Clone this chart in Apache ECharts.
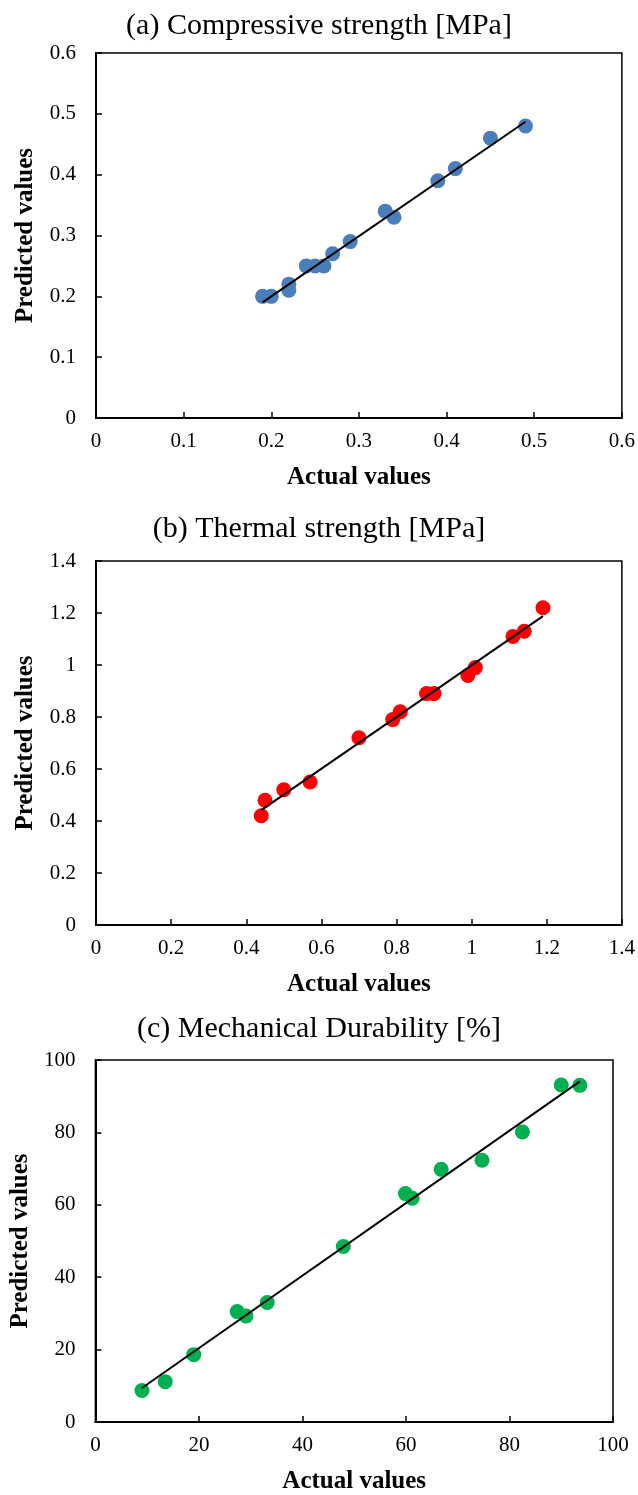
<!DOCTYPE html>
<html>
<head>
<meta charset="utf-8">
<script src="https://cdn.jsdelivr.net/npm/echarts@6/dist/echarts.min.js"></script>
<style>
  html, body { margin: 0; padding: 0; background: #fff; }
  #main { width: 638px; height: 1495px; }
</style>
</head>
<body>
<div id="main"></div>
<script>
// (a) Compressive strength [MPa]
var compActual = [0.19, 0.20, 0.22, 0.22, 0.24, 0.25, 0.26, 0.27, 0.29, 0.33, 0.34, 0.39, 0.41, 0.45, 0.49];
var compPred   = [0.20, 0.20, 0.22, 0.21, 0.25, 0.25, 0.25, 0.27, 0.29, 0.34, 0.33, 0.39, 0.41, 0.46, 0.48];
var compFitX = [0.19, 0.49];
var compFitY = [0.19, 0.487];

// (b) Thermal strength [MPa]
var thermActual = [0.44, 0.45, 0.50, 0.57, 0.70, 0.79, 0.81, 0.88, 0.90, 0.99, 1.01, 1.11, 1.14, 1.19];
var thermPred   = [0.42, 0.48, 0.52, 0.55, 0.72, 0.79, 0.82, 0.89, 0.89, 0.96, 0.99, 1.11, 1.13, 1.22];
var thermFitX = [0.44, 1.19];
var thermFitY = [0.442, 1.188];

// (c) Mechanical Durability [%]
var durActual = [9.0, 13.5, 19.0, 27.4, 29.1, 33.2, 47.9, 59.9, 61.2, 66.8, 74.7, 82.5, 90.0, 93.6];
var durPred   = [8.7, 11.1, 18.6, 30.5, 29.3, 33.0, 48.5, 63.1, 61.8, 69.8, 72.3, 80.1, 93.1, 93.0];
var durFitX = [9.0, 93.6];
var durFitY = [9.4, 94.1];

var titles = ['(a) Compressive strength [MPa]', '(b) Thermal strength [MPa]', '(c) Mechanical Durability [%]'];
var axisMax = [0.6, 1.4, 100];
var axisStep = [0.1, 0.2, 20];
var colors = ['#4a7ebb', '#ff0000', '#00b050'];

var FONT = '"Liberation Serif", "Times New Roman", serif';

function pairs(xs, ys) {
  return xs.map(function (x, i) { return [x, ys[i]]; });
}

function fmt(v) {
  return String(Math.round(v * 100) / 100);
}

var grids = [
  { left: 96, right: 14, top: 53, height: 365 },
  { left: 96, right: 14, top: 561, height: 364 },
  { left: 92, right: 25, top: 1060, height: 364 }
];

var titleTops = [6, 509, 1009];

var xAxes = [], yAxes = [], series = [], titleList = [];

for (var i = 0; i < 3; i++) {
  grids[i].show = true;
  grids[i].borderColor = '#000';
  grids[i].borderWidth = 1.5;
  grids[i].backgroundColor = 'transparent';

  titleList.push({
    text: titles[i],
    left: 'center',
    top: titleTops[i],
    textStyle: { fontFamily: FONT, fontSize: 30, fontWeight: 'normal', color: '#000' }
  });

  var common = {
    type: 'value',
    gridIndex: i,
    min: 0,
    max: axisMax[i],
    interval: axisStep[i],
    splitLine: { show: false },
    axisLine: { show: true, onZero: false, lineStyle: { color: '#000', width: 2 } },
    axisTick: { show: true, inside: true, length: 6, lineStyle: { color: '#000', width: 1.5 } },
    axisLabel: { fontFamily: FONT, fontSize: 21, color: '#000', formatter: fmt },
    nameLocation: 'middle',
    nameTextStyle: { fontFamily: FONT, fontSize: 25, fontWeight: 'bold', color: '#000' }
  };

  xAxes.push(Object.assign({}, common, {
    name: 'Actual values',
    nameGap: 47,
    axisLabel: Object.assign({}, common.axisLabel, { margin: 13 })
  }));
  yAxes.push(Object.assign({}, common, {
    name: 'Predicted values',
    nameGap: i === 2 ? 54 : 58,
    nameRotate: 90,
    axisLabel: Object.assign({}, common.axisLabel, { margin: 20 })
  }));
}

var sets = [
  [compActual, compPred, compFitX, compFitY],
  [thermActual, thermPred, thermFitX, thermFitY],
  [durActual, durPred, durFitX, durFitY]
];

sets.forEach(function (s, i) {
  series.push({
    type: 'scatter',
    xAxisIndex: i,
    yAxisIndex: i,
    symbol: 'circle',
    symbolSize: 15,
    itemStyle: { color: colors[i], opacity: 1 },
    data: pairs(s[0], s[1]),
    z: 2
  });
  series.push({
    type: 'line',
    xAxisIndex: i,
    yAxisIndex: i,
    showSymbol: false,
    symbol: 'none',
    lineStyle: { color: '#000', width: 2 },
    data: pairs(s[2], s[3]),
    z: 3
  });
});

var chart = echarts.init(document.getElementById('main'), null, { renderer: 'canvas' });
chart.setOption({
  animation: false,
  backgroundColor: '#fff',
  title: titleList,
  grid: grids,
  xAxis: xAxes,
  yAxis: yAxes,
  series: series
});
</script>
</body>
</html>
